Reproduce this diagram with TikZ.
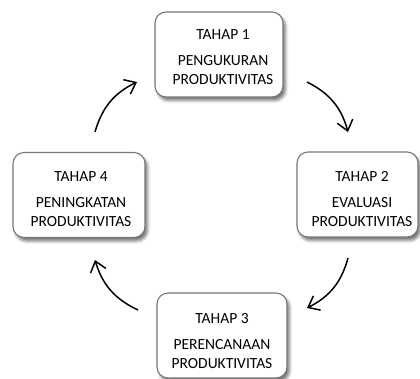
\documentclass[tikz,border=0pt]{standalone}
\usepackage{fontspec}
\setmainfont{Carlito}
\usetikzlibrary{arrows.meta,shadows.blur}
\definecolor{boxgray}{HTML}{777777}
\begin{document}
\begin{tikzpicture}[x=1pt,y=-1pt,
  stagebox/.style={draw=boxgray, line width=1.1pt, rounded corners=11pt, fill=white,
    minimum width=#1, minimum height=85pt, inner sep=0pt,
    blur shadow={shadow xshift=2.5pt, shadow yshift=-3.5pt, shadow blur radius=3pt, shadow opacity=55}},
  stagebox/.default=128pt,
  stagetext/.style={align=center, font=\fontsize{15.5}{19}\selectfont, inner sep=0pt},
  flow/.style={line width=1.5pt, -{Straight Barb[length=10pt,width=16pt,line width=1.5pt]}, bend left=24}]
\useasboundingbox (0,0) rectangle (420,378);
\node[stagebox=128pt] (b1) at (219,54.5) {};
\node[stagebox=121pt] (b2) at (357.5,194.5) {};
\node[stagebox=130pt] (b3) at (222,335.5) {};
\node[stagebox=132pt] (b4) at (79,195) {};
\node[stagetext] (t1) at (223,57) {TAHAP 1\\[7pt]PENGUKURAN\\PRODUKTIVITAS};
\node[stagetext] (t2) at (362,199) {TAHAP 2\\[7pt]EVALUASI\\PRODUKTIVITAS};
\node[stagetext] (t3) at (222,341) {TAHAP 3\\[7pt]PERENCANAAN\\PRODUKTIVITAS};
\node[stagetext] (t4) at (81,199) {TAHAP 4\\[7pt]PENINGKATAN\\PRODUKTIVITAS};
\coordinate (a1s) at (95,132);  \coordinate (a1e) at (137,82);
\coordinate (a2s) at (307,82);  \coordinate (a2e) at (348,132);
\coordinate (a3s) at (348,258); \coordinate (a3e) at (307,308);
\coordinate (a4s) at (138,310); \coordinate (a4e) at (95,260);
\draw[flow] (a1s) to (a1e);
\draw[flow] (a2s) to (a2e);
\draw[flow] (a3s) to (a3e);
\draw[flow] (a4s) to (a4e);
\end{tikzpicture}
\end{document}
